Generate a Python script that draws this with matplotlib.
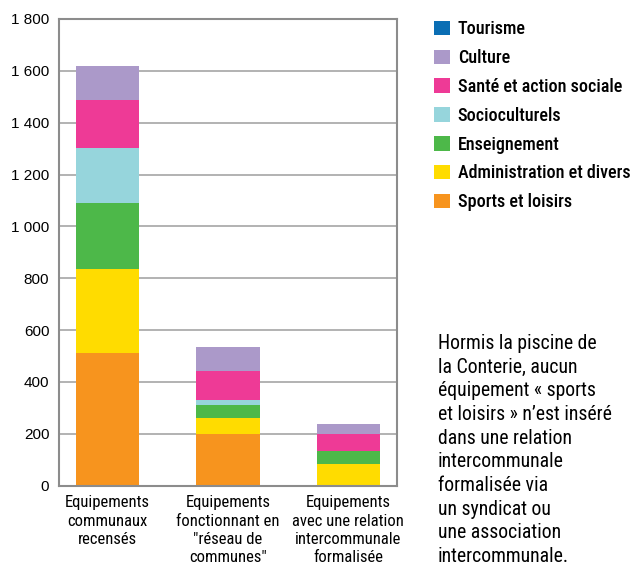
import matplotlib
matplotlib.use("Agg")
import matplotlib.pyplot as plt
from matplotlib.patches import Patch
import numpy as np

categories = ["Equipements\ncommunaux\nrecensés",
              "Equipements\nfonctionnant en\n\"réseau de\ncommunes\"",
              "Equipements\navec une relation\nintercommunale\nformalisée"]
series_names = ["Sports et loisirs", "Administration et divers", "Enseignement",
                "Socioculturels", "Santé et action sociale", "Culture", "Tourisme"]
sports = [512, 200, 3]
administration = [325, 61, 80]
enseignement = [254, 50, 50]
socioculturels = [212, 20, 0]
sante = [186, 111, 66]
culture = [130, 93, 38]
tourisme = [0, 0, 0]
yticks = [0, 200, 400, 600, 800, 1000, 1200, 1400, 1600, 1800]
yticklabels = ["0", "200", "400", "600", "800", "1 000", "1 200", "1 400", "1 600", "1 800"]
colors = ["#f7941e", "#ffdc00", "#4db849", "#96d5dc", "#ee3a96", "#ab99c9", "#0a6eb4"]
note = ("Hormis la piscine de\nla Conterie, aucun\néquipement « sports\n"
        "et loisirs » n’est inséré\ndans une relation\nintercommunale\n"
        "formalisée via\nun syndicat ou\nune association\nintercommunale.")

narrow = ["Roboto Condensed", "DejaVu Sans"]

fig = plt.figure(figsize=(6.3, 5.67), dpi=100)
ax = fig.add_axes([0.0937, 0.1434, 0.5365, 0.8231])

data = [sports, administration, enseignement, socioculturels, sante, culture, tourisme]
x = np.arange(len(categories))
bottom = np.zeros(len(categories))
for vals, c in zip(data, colors):
    ax.bar(x, vals, width=0.525, bottom=bottom, color=c, zorder=2, linewidth=0)
    bottom += np.array(vals)

ax.set_xlim(-0.404, 2.404)
ax.set_ylim(0, 1800)
ax.set_yticks(yticks)
ax.set_yticklabels(yticklabels, fontsize=11, family=["Liberation Sans", "DejaVu Sans"])
ax.set_xticks(x)
ax.set_xticklabels(categories, fontsize=12, family=narrow, linespacing=1.27, va="top")
ax.tick_params(axis="both", length=0)
ax.tick_params(axis="y", pad=7)
ax.tick_params(axis="x", pad=7)
ax.yaxis.grid(True, color="#a6a6a6", linewidth=1.2, zorder=0)
ax.set_axisbelow(True)
for s in ax.spines.values():
    s.set_color("#8c8c8c")
    s.set_linewidth(1.5)

handles = [Patch(facecolor=c, edgecolor="none") for c in colors][::-1]
labels = series_names[::-1]
leg = fig.legend(handles, labels, loc="upper left", bbox_to_anchor=(0.678, 0.977),
                 frameon=False, prop={"family": narrow, "weight": 500, "size": 13},
                 handlelength=0.85, handleheight=0.85, handletextpad=0.45,
                 labelspacing=0.6, borderaxespad=0)

fig.text(0.695, 0.411, note, fontsize=14.2, family=narrow, va="top", ha="left",
         linespacing=1.31)

fig.savefig("out.png", dpi=100)
